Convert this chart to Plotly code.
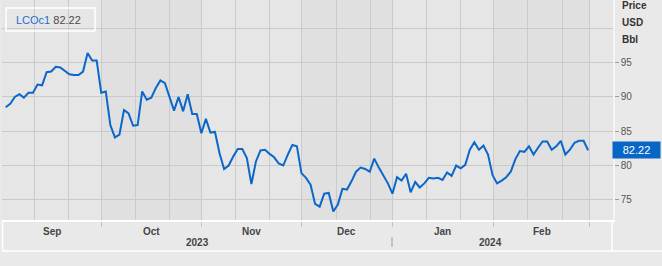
import plotly.graph_objects as go

# ---- data ----
ric = "LCOc1"
prices = [
    88.5, 89.0, 90.0, 90.4, 89.9, 90.6, 90.6, 91.8, 91.7, 93.6,
    93.7, 94.4, 94.3, 93.8, 93.3, 93.2, 93.2, 93.7, 96.4, 95.3,
    95.3, 90.6, 90.8, 85.9, 84.1, 84.5, 88.1, 87.6, 85.8, 85.9,
    90.8, 89.6, 89.9, 91.3, 92.4, 92.0, 90.0, 88.0, 90.0, 87.9,
    90.4, 87.5, 87.5, 84.7, 86.8, 84.8, 84.9, 81.8, 79.5, 80.0,
    81.3, 82.4, 82.4, 81.1, 77.3, 80.6, 82.2, 82.3, 81.7, 81.2,
    80.3, 80.0, 81.6, 83.0, 82.8, 78.9, 78.2, 77.2, 74.4, 74.0,
    75.9, 76.0, 73.3, 74.3, 76.6, 76.5, 77.7, 79.1, 79.7, 79.5,
    79.1, 81.0, 79.7, 78.5, 77.4, 75.9, 78.3, 77.8, 78.8, 76.1,
    77.6, 76.8, 77.4, 78.2, 78.1, 78.2, 77.9, 79.0, 78.5, 80.0,
    79.6, 80.1, 82.3, 83.4, 82.3, 82.9, 81.6, 78.6, 77.4, 77.8,
    78.3, 79.1, 80.9, 82.1, 82.0, 82.8, 81.6, 82.6, 83.5, 83.5,
    82.3, 82.8, 83.6, 81.6, 82.3, 83.3, 83.6, 83.6, 82.22,
]
trading_day = list(range(len(prices)))

month_names = ["Sep", "Oct", "Nov", "Dec", "Jan", "Feb"]
# trading-day position where each following month starts
month_bounds = [21.16, 43.1, 65.1, 84.9, 107.3, 128.4]
# intermediate (approx. 11th / 21st of month) grid positions
grid_minor = [6.44, 13.9, 28.6, 36.1, 50.5, 57.9, 72.6, 80.1, 92.4, 99.9, 114.6, 122.3]
year_names = ["2023", "2024"]
year_start_bound = 84.9
y_ticks = [75, 80, 85, 90, 95]
y_extra_grid = [100]
unit_lines = ["Price", "USD", "Bbl"]

X_RANGE = [-0.81, 133.47]
Y_RANGE = [72.06, 104.13]

FONT = "Liberation Sans, Arial, sans-serif"
BLUE = "#0b67c9"
GRID = "#cacaca"

W, H = 662, 266
ML, MR, MT, MB = 2, 49, 0, 46
PW, PH = W - ML - MR, H - MT - MB


def px_x(p):
    return (p - ML) / PW


def px_y(p):
    return 1 - (p - MT) / PH


fig = go.Figure()
fig.add_trace(go.Scatter(
    x=trading_day, y=prices, mode="lines",
    line=dict(color=BLUE, width=2), hoverinfo="skip", showlegend=False,
))

shapes = []
# alternating month bands
starts = [X_RANGE[0]] + month_bounds
for i in range(len(month_names)):
    if i % 2 == 1:
        shapes.append(dict(type="rect", xref="x", yref="paper",
                           x0=starts[i], x1=starts[i + 1], y0=0, y1=1,
                           fillcolor="#e0e0e0", line=dict(width=0), layer="below"))
# legend box
shapes.append(dict(type="rect", xref="paper", yref="paper",
                   x0=px_x(6), x1=px_x(95), y0=px_y(31), y1=px_y(8),
                   line=dict(color="white", width=1.5), fillcolor="rgba(0,0,0,0)"))
# axis band frame
shapes.append(dict(type="line", xref="paper", yref="paper",
                   x0=0, x1=px_x(662), y0=px_y(251), y1=px_y(251),
                   line=dict(color="white", width=1.5)))
shapes.append(dict(type="line", xref="paper", yref="paper",
                   x0=px_x(2.5), x1=px_x(2.5), y0=px_y(221), y1=px_y(251),
                   line=dict(color="white", width=1.5)))
shapes.append(dict(type="line", xref="paper", yref="paper",
                   x0=px_x(612), x1=px_x(612), y0=px_y(221), y1=px_y(251),
                   line=dict(color="white", width=1.5)))
# year separator
shapes.append(dict(type="line", xref="x", yref="paper",
                   x0=year_start_bound, x1=year_start_bound, y0=px_y(237), y1=px_y(247),
                   line=dict(color="#c2c2c2", width=2)))

annotations = []
# legend text
annotations.append(dict(
    xref="paper", yref="paper", x=px_x(14), y=px_y(20), xanchor="left", yanchor="middle",
    text=f"<span style='color:#1a70cc'>{ric}</span> {prices[-1]:.2f}",
    showarrow=False, font=dict(family=FONT, size=11, color="#4a4a4a"),
))
# month labels
for i, m in enumerate(month_names):
    annotations.append(dict(
        xref="x", yref="paper", x=(starts[i] + starts[i + 1]) / 2, y=px_y(231),
        text=f"<b>{m}</b>", showarrow=False, yanchor="middle",
        font=dict(family=FONT, size=10, color="#454545"),
    ))
# year labels
year_spans = [(X_RANGE[0], year_start_bound), (year_start_bound, month_bounds[-1])]
for name, (a, b) in zip(year_names, year_spans):
    annotations.append(dict(
        xref="x", yref="paper", x=(a + b) / 2, y=px_y(242),
        text=f"<b>{name}</b>", showarrow=False, yanchor="middle",
        font=dict(family=FONT, size=10, color="#454545"),
    ))
# unit header
for txt, yp in zip(unit_lines, [5.5, 23, 39.5]):
    annotations.append(dict(
        xref="paper", yref="paper", x=px_x(620), y=px_y(yp), xanchor="left", yanchor="middle",
        text=f"<b>{txt}</b>", showarrow=False,
        font=dict(family=FONT, size=10, color="#333333"),
    ))
# last price flag
annotations.append(dict(
    xref="paper", yref="y", x=px_x(612), y=prices[-1], xanchor="left", yanchor="middle",
    text=f"{prices[-1]:.2f}", showarrow=False, bgcolor="#0866c6",
    width=43, height=12, borderpad=2, align="center",
    font=dict(family=FONT, size=11, color="white"),
))

fig.update_layout(
    width=W, height=H,
    margin=dict(l=ML, r=MR, t=MT, b=MB, pad=0),
    paper_bgcolor="#e9e9e9",
    plot_bgcolor="#e6e6e6",
    font=dict(family=FONT, size=10, color="#555555"),
    shapes=shapes,
    annotations=annotations,
    xaxis=dict(
        range=X_RANGE, tickmode="array", tickvals=month_bounds,
        showticklabels=False, ticks="outside", ticklen=5, tickcolor="#c4c4c4", tickwidth=1,
        showgrid=True, gridcolor=GRID, gridwidth=1, zeroline=False,
        showline=True, linecolor="white", linewidth=2,
        minor=dict(tickmode="array", tickvals=grid_minor, showgrid=True,
                   gridcolor=GRID, gridwidth=1, ticks=""),
        fixedrange=True,
    ),
    yaxis=dict(
        side="right", range=Y_RANGE, tickmode="array", tickvals=y_ticks,
        ticks="outside", ticklen=4, tickcolor="#9a9a9a", tickwidth=1,
        tickfont=dict(family=FONT, size=10, color="#555555"),
        showgrid=True, gridcolor=GRID, gridwidth=1, zeroline=False,
        showline=True, linecolor="#f4f4f4", linewidth=1.5,
        minor=dict(tickmode="array", tickvals=y_extra_grid, showgrid=True,
                   gridcolor=GRID, gridwidth=1, ticks=""),
        fixedrange=True,
    ),
)

fig.write_html("out.html")
